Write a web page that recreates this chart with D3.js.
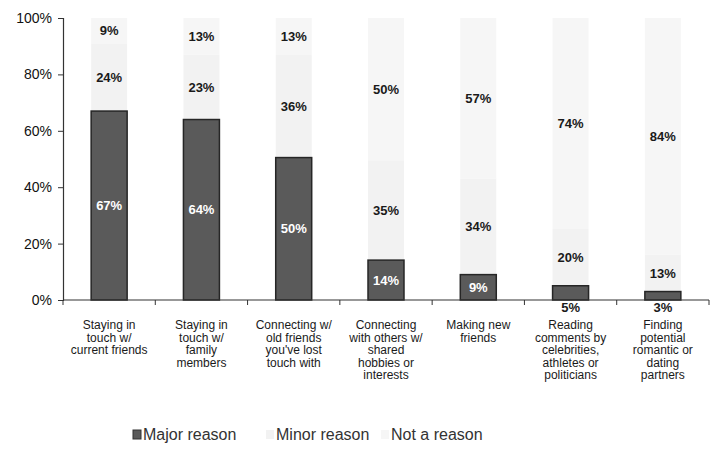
<!DOCTYPE html>
<html><head><meta charset="utf-8">
<script src="https://cdn.jsdelivr.net/npm/d3@7/dist/d3.min.js"></script>
<style>body{margin:0;background:#fff;}svg{display:block;}</style>
</head><body><svg id="c" width="716" height="449"></svg>
<script>
const categories = [
  ["Staying in","touch w/","current friends"],
  ["Staying in","touch w/","family","members"],
  ["Connecting w/","old friends","you've lost","touch with"],
  ["Connecting","with others w/","shared","hobbies or","interests"],
  ["Making new","friends"],
  ["Reading","comments by","celebrities,","athletes or","politicians"],
  ["Finding","potential","romantic or","dating","partners"]
];
const seriesNames = ["Major reason","Minor reason","Not a reason"];
const major = [67,64,50,14,9,5,3];
const minor = [24,23,36,35,34,20,13];
const notReason = [9,13,13,50,57,74,84];
const yTicks = [0,20,40,60,80,100];

const colors = ["#5a5a5a","#f2f2f2","#f6f6f6"];
const svg = d3.select("#c");
const m = {l:63, r:7, t:18, b:149};
const W = 716, H = 449;
const x = d3.scaleBand().domain(d3.range(categories.length)).range([m.l, W-m.r]).paddingInner(0.61).paddingOuter(0.305);
const y = d3.scaleLinear().domain([0,100]).range([H-m.b, m.t]);

const rows = categories.map((c,i)=>{const t=major[i]+minor[i]+notReason[i];return {i, v:[major[i],minor[i],notReason[i]], t};});
const stackData = rows.map(r=>({i:r.i, s0:r.v[0]/r.t*100, s1:r.v[1]/r.t*100, s2:r.v[2]/r.t*100}));
const stack = d3.stack().keys(["s0","s1","s2"])(stackData);

[2,1,0].forEach(k=>{
  svg.append("g").selectAll("rect").data(stack[k]).join("rect")
    .attr("x",d=>x(d.data.i)).attr("width",x.bandwidth())
    .attr("y",d=>y(d[1])).attr("height",d=>y(d[0])-y(d[1]))
    .attr("fill",colors[k])
    .attr("stroke",k===0?"#262626":"none").attr("stroke-width",k===0?1.5:0);
});

const yAxis = d3.axisLeft(y).tickValues(yTicks).tickFormat(d=>d+"%").tickSize(5).tickPadding(6);
const gy = svg.append("g").attr("transform",`translate(${m.l},0)`).call(yAxis);
gy.select(".domain").attr("stroke","#333").attr("stroke-width",1.2);
gy.selectAll(".tick line").attr("stroke","#333");
gy.selectAll("text").attr("font-family","'Liberation Sans',Arial,sans-serif").attr("font-size",14).attr("fill","#111");

const step = x.step();
const boundaries = d3.range(categories.length+1).map(i=>m.l + i*step);
const gx = svg.append("g");
gx.append("line").attr("x1",m.l).attr("x2",W-m.r).attr("y1",y(0)).attr("y2",y(0)).attr("stroke","#333").attr("stroke-width",1.2);
gx.selectAll("line.t").data(boundaries).join("line").attr("class","t")
  .attr("x1",d=>d).attr("x2",d=>d).attr("y1",y(0)).attr("y2",y(0)+5).attr("stroke","#333");

const cat = svg.append("g").attr("font-family","'Liberation Sans Narrow','Liberation Sans',Arial,sans-serif").attr("font-size",12).attr("fill","#1a1a1a").attr("text-anchor","middle");
categories.forEach((lines,i)=>{
  const t = cat.append("text").attr("x",x(i)+x.bandwidth()/2).attr("y",y(0)+29);
  lines.forEach((ln,j)=>t.append("tspan").attr("x",x(i)+x.bandwidth()/2).attr("dy",j===0?0:12.6).text(ln));
});

const lab = svg.append("g").attr("font-family","'Liberation Sans',Arial,sans-serif").attr("font-size",13).attr("font-weight","bold").attr("text-anchor","middle");
stack.forEach((ser,k)=>{
  ser.forEach(d=>{
    const i=d.data.i; const val=rows[i].v[k];
    let cy = y((d[0]+d[1])/2), fill = k===0?"#fff":"#1a1a1a";
    if(k===0 && val<8){ cy = y(0)+7; fill="#1a1a1a"; }
    lab.append("text").attr("x",x(i)+x.bandwidth()/2).attr("y",cy).attr("dy","0.36em").attr("fill",fill).text(val+"%");
  });
});

const leg = svg.append("g").attr("font-family","'Liberation Sans',Arial,sans-serif").attr("font-size",16).attr("fill","#333");
const legX = [133,266,381];
seriesNames.forEach((n,k)=>{
  leg.append("rect").attr("x",legX[k]).attr("y",430).attr("width",8).attr("height",9).attr("fill",colors[k]).attr("stroke",k===0?"#333":"none");
  leg.append("text").attr("x",legX[k]+10).attr("y",440).text(n);
});
</script></body></html>
